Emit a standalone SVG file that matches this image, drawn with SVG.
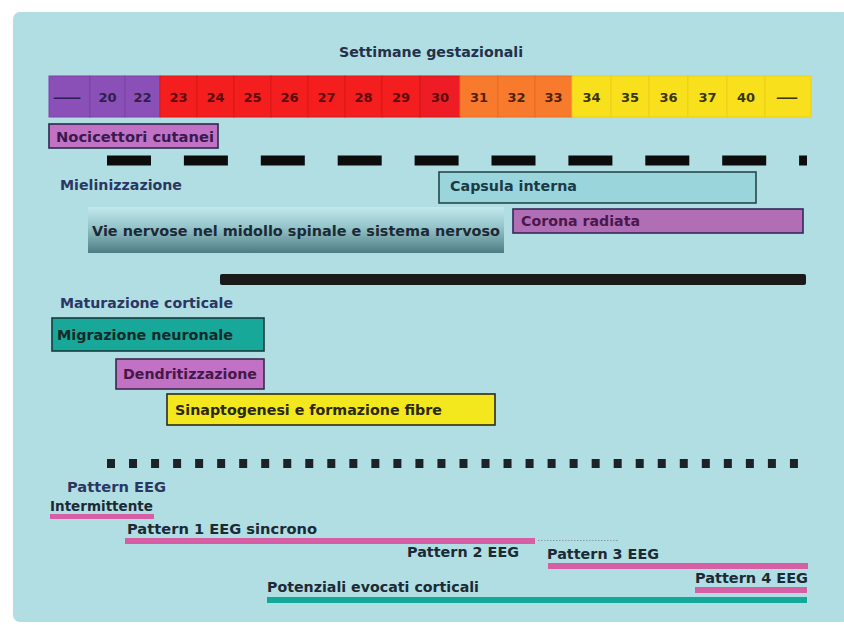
<svg xmlns="http://www.w3.org/2000/svg" width="844" height="625" viewBox="0 0 844 625">
<defs>
<linearGradient id="gVie" x1="0" y1="0" x2="0" y2="1">
<stop offset="0" stop-color="#c2e9ee"/>
<stop offset="0.45" stop-color="#93c3c8"/>
<stop offset="1" stop-color="#4d7d83"/>
</linearGradient>
</defs>
<style>
text{font-family:"DejaVu Sans","Liberation Sans",sans-serif;font-weight:bold;font-size:14.2px;}
.num{font-size:13px;text-anchor:middle;}
.hdr{fill:#23314a;}
.lbl{fill:#2b3762;}
.dark{fill:#1c2a36;}
.box{stroke-width:1.6;}
.cell{stroke-width:1;}
</style>
<rect x="0" y="0" width="844" height="625" fill="#ffffff"/>
<rect x="13" y="12" width="836" height="610" rx="7" fill="#b0dee3"/>

<g id="title"><text x="431" y="57" class="hdr" text-anchor="middle">Settimane gestazionali</text></g>

<g id="header">
<rect class="cell" x="49" y="76" width="41" height="41" fill="#8b4fb8" stroke="#7a44a6"/>
<rect class="cell" x="90" y="76" width="35" height="41" fill="#8b4fb8" stroke="#7a44a6"/>
<rect class="cell" x="125" y="76" width="35" height="41" fill="#8b4fb8" stroke="#7a44a6"/>
<rect class="cell" x="160" y="76" width="37" height="41" fill="#f41e1e" stroke="#d81818"/>
<rect class="cell" x="197" y="76" width="37" height="41" fill="#f41e1e" stroke="#d81818"/>
<rect class="cell" x="234" y="76" width="37" height="41" fill="#f41e1e" stroke="#d81818"/>
<rect class="cell" x="271" y="76" width="37" height="41" fill="#f41e1e" stroke="#d81818"/>
<rect class="cell" x="308" y="76" width="37" height="41" fill="#f41e1e" stroke="#d81818"/>
<rect class="cell" x="345" y="76" width="37" height="41" fill="#f41e1e" stroke="#d81818"/>
<rect class="cell" x="382" y="76" width="38" height="41" fill="#f41e1e" stroke="#d81818"/>
<rect class="cell" x="420" y="76" width="40" height="41" fill="#ee1c24" stroke="#d01818"/>
<rect class="cell" x="460" y="76" width="38" height="41" fill="#f87a2c" stroke="#e86c24"/>
<rect class="cell" x="498" y="76" width="37" height="41" fill="#f87a2c" stroke="#e86c24"/>
<rect class="cell" x="535" y="76" width="37" height="41" fill="#f87a2c" stroke="#e86c24"/>
<rect class="cell" x="572" y="76" width="39" height="41" fill="#f9e01c" stroke="#eccf18"/>
<rect class="cell" x="611" y="76" width="38" height="41" fill="#f9e01c" stroke="#eccf18"/>
<rect class="cell" x="649" y="76" width="39" height="41" fill="#f9e01c" stroke="#eccf18"/>
<rect class="cell" x="688" y="76" width="39" height="41" fill="#f9e01c" stroke="#eccf18"/>
<rect class="cell" x="727" y="76" width="38" height="41" fill="#f9e01c" stroke="#eccf18"/>
<rect class="cell" x="765" y="76" width="46" height="41" fill="#f9e01c" stroke="#eccf18"/>
<text class="num" x="67" y="102" fill="#2a1f5a" textLength="30" lengthAdjust="spacingAndGlyphs">—</text>
<text class="num" x="107.5" y="102" fill="#2f2048">20</text>
<text class="num" x="142.5" y="102" fill="#2f2048">22</text>
<text class="num" x="178.5" y="102" fill="#5a0c0c">23</text>
<text class="num" x="215.5" y="102" fill="#5a0c0c">24</text>
<text class="num" x="252.5" y="102" fill="#5a0c0c">25</text>
<text class="num" x="289.5" y="102" fill="#5a0c0c">26</text>
<text class="num" x="326.5" y="102" fill="#5a0c0c">27</text>
<text class="num" x="363.5" y="102" fill="#5a0c0c">28</text>
<text class="num" x="401" y="102" fill="#5a0c0c">29</text>
<text class="num" x="440" y="102" fill="#5a0c0c">30</text>
<text class="num" x="479" y="102" fill="#4f2208">31</text>
<text class="num" x="516.5" y="102" fill="#4f2208">32</text>
<text class="num" x="553.5" y="102" fill="#4f2208">33</text>
<text class="num" x="591.5" y="102" fill="#38360c">34</text>
<text class="num" x="630" y="102" fill="#38360c">35</text>
<text class="num" x="668.5" y="102" fill="#38360c">36</text>
<text class="num" x="707.5" y="102" fill="#38360c">37</text>
<text class="num" x="746" y="102" fill="#38360c">40</text>
<text class="num" x="787" y="102" fill="#38360c" textLength="23" lengthAdjust="spacingAndGlyphs">—</text>
</g>

<g id="connectors">
<line x1="107" y1="160.5" x2="807" y2="160.5" stroke="#0c0c0c" stroke-width="10" stroke-dasharray="44 32.9"/>
<rect x="220" y="274" width="586" height="11" rx="2" fill="#1a1a1a"/>
<line x1="107" y1="463.5" x2="798" y2="463.5" stroke="#1c2228" stroke-width="9" stroke-dasharray="8 14.03"/>
<rect x="50" y="514" width="104" height="5" fill="#d65ea4"/>
<rect x="125" y="538" width="410" height="6" fill="#d65ea4"/>
<line x1="538" y1="540.5" x2="618" y2="540.5" stroke="#8a9aa8" stroke-width="1" stroke-dasharray="1.5 1.5"/>
<rect x="548" y="563" width="260" height="6" fill="#d65ea4"/>
<rect x="695" y="587" width="112" height="6" fill="#d65ea4"/>
<rect x="267" y="597" width="540" height="6" fill="#14a89a"/>
</g>

<g id="nocicettori">
<rect class="box" x="49" y="124" width="169" height="24" fill="#c272c4" stroke="#2c2a4a"/>
<text x="56" y="141.5" fill="#3a1a4e" textLength="158" lengthAdjust="spacingAndGlyphs">Nocicettori cutanei</text>
</g>

<g id="mielinizzazione"><text x="60" y="190" class="lbl" textLength="122" lengthAdjust="spacingAndGlyphs">Mielinizzazione</text></g>

<g id="capsula">
<rect class="box" x="439" y="172" width="317" height="31" fill="#9ad5dc" stroke="#24484e"/>
<text x="450" y="191" fill="#1a3a46" textLength="127" lengthAdjust="spacingAndGlyphs">Capsula interna</text>
</g>

<g id="corona">
<rect class="box" x="513" y="209" width="290" height="24" fill="#b26eb4" stroke="#34285a"/>
<text x="521" y="226" fill="#48184e" textLength="119" lengthAdjust="spacingAndGlyphs">Corona radiata</text>
</g>

<g id="vie">
<rect x="88" y="207" width="416" height="46" fill="url(#gVie)"/>
<text x="92" y="236" class="dark" textLength="408" lengthAdjust="spacingAndGlyphs">Vie nervose nel midollo spinale e sistema nervoso</text>
</g>

<g id="maturazione"><text x="60" y="308" class="lbl" textLength="173" lengthAdjust="spacingAndGlyphs">Maturazione corticale</text></g>

<g id="migrazione">
<rect class="box" x="52" y="318" width="212" height="33" fill="#17a899" stroke="#1a3a3c"/>
<text x="57" y="340" fill="#16282a" textLength="176" lengthAdjust="spacingAndGlyphs">Migrazione neuronale</text>
</g>

<g id="dendritizzazione">
<rect class="box" x="116" y="359" width="148" height="30" fill="#c272c4" stroke="#3a2a4a"/>
<text x="123" y="379" fill="#46184a" textLength="134" lengthAdjust="spacingAndGlyphs">Dendritizzazione</text>
</g>

<g id="sinaptogenesi">
<rect class="box" x="167" y="394" width="328" height="31" fill="#f3e81e" stroke="#2a2a22"/>
<text x="175" y="415" fill="#2a2810" textLength="267" lengthAdjust="spacingAndGlyphs">Sinaptogenesi e formazione fibre</text>
</g>

<g id="pattern-eeg"><text x="67" y="492" class="lbl" textLength="99" lengthAdjust="spacingAndGlyphs">Pattern EEG</text></g>
<g id="intermittente"><text x="50" y="511" class="dark" textLength="103" lengthAdjust="spacingAndGlyphs">Intermittente</text></g>
<g id="pattern1"><text x="127" y="534" class="dark" textLength="190" lengthAdjust="spacingAndGlyphs">Pattern 1 EEG sincrono</text></g>
<g id="pattern2"><text x="407" y="557" class="dark" textLength="112" lengthAdjust="spacingAndGlyphs">Pattern 2 EEG</text></g>
<g id="pattern3"><text x="547" y="559" class="dark" textLength="112" lengthAdjust="spacingAndGlyphs">Pattern 3 EEG</text></g>
<g id="pattern4"><text x="695" y="583" class="dark" textLength="113" lengthAdjust="spacingAndGlyphs">Pattern 4 EEG</text></g>
<g id="potenziali"><text x="267" y="592" class="dark" textLength="212" lengthAdjust="spacingAndGlyphs">Potenziali evocati corticali</text></g>
</svg>
